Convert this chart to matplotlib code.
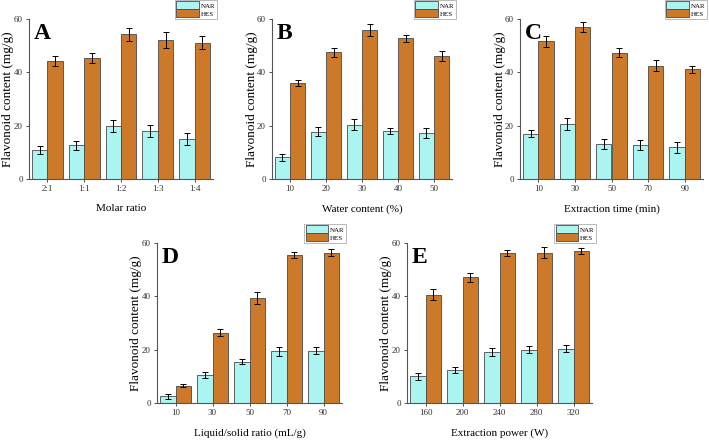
import numpy as np
import matplotlib
matplotlib.use('Agg')
import matplotlib.pyplot as plt

plt.rcParams['font.family'] = ['Liberation Serif', 'DejaVu Serif']

# panel A - molar ratio
a_labels = ['2:1', '1:1', '1:2', '1:3', '1:4']
a_nar = [11.0, 12.7, 19.8, 18.1, 15.1]
a_nar_err = [1.5, 1.7, 2.2, 2.3, 2.2]
a_hes = [44.1, 45.4, 54.2, 52.2, 51.1]
a_hes_err = [1.9, 1.8, 2.3, 2.9, 2.4]

# panel B - water content
b_labels = ['10', '20', '30', '40', '50']
b_nar = [8.2, 17.7, 20.4, 18.0, 17.2]
b_nar_err = [1.3, 1.7, 2.0, 1.1, 1.8]
b_hes = [36.0, 47.6, 56.0, 52.7, 46.1]
b_hes_err = [1.0, 1.7, 2.3, 1.3, 1.8]

# panel C - extraction time
c_labels = ['10', '30', '50', '70', '90']
c_nar = [17.0, 20.5, 13.1, 12.6, 11.9]
c_nar_err = [1.3, 2.3, 2.0, 1.9, 2.1]
c_hes = [51.6, 57.0, 47.4, 42.5, 41.1]
c_hes_err = [2.0, 1.8, 1.6, 2.0, 1.3]

# panel D - liquid/solid ratio
d_labels = ['10', '30', '50', '70', '90']
d_nar = [2.5, 10.5, 15.5, 19.4, 19.6]
d_nar_err = [1.0, 1.3, 1.0, 1.6, 1.3]
d_hes = [6.5, 26.4, 39.5, 55.4, 56.4]
d_hes_err = [0.5, 1.4, 2.3, 1.2, 1.3]

# panel E - extraction power
e_labels = ['160', '200', '240', '280', '320']
e_nar = [10.0, 12.4, 19.1, 20.0, 20.4]
e_nar_err = [1.3, 1.0, 1.4, 1.2, 1.4]
e_hes = [40.6, 47.1, 56.4, 56.4, 56.9]
e_hes_err = [2.0, 1.6, 1.1, 2.0, 1.1]

W, H = 709, 441
fig = plt.figure(figsize=(W / 100, H / 100), dpi=100)

nar_col = '#aaf4f2'
hes_col = '#cc7a2a'
edge = '#4a4a4a'


def rect(l, r, t, b):
    return [l / W, 1 - b / H, (r - l) / W, (b - t) / H]


panels = [
    ('A', rect(29, 213, 19, 179), a_labels, a_nar, a_nar_err, a_hes, a_hes_err, 'Molar ratio'),
    ('B', rect(272, 452, 19, 179), b_labels, b_nar, b_nar_err, b_hes, b_hes_err, 'Water content (%)'),
    ('C', rect(520, 703, 19, 179), c_labels, c_nar, c_nar_err, c_hes, c_hes_err, 'Extraction time (min)'),
    ('D', rect(157, 342, 243, 403), d_labels, d_nar, d_nar_err, d_hes, d_hes_err, 'Liquid/solid ratio (mL/g)'),
    ('E', rect(407, 592, 243, 403), e_labels, e_nar, e_nar_err, e_hes, e_hes_err, 'Extraction power (W)'),
]

w = 0.42
for letter, pos, labels, nar, nar_err, hes, hes_err, xlab in panels:
    ax = fig.add_axes(pos)
    x = np.arange(len(labels))
    ekw = dict(ecolor='black', elinewidth=0.7, capsize=2.5, capthick=0.7)
    ax.bar(x - w / 2, nar, w, yerr=nar_err, color=nar_col, edgecolor=edge,
           linewidth=0.6, error_kw=ekw, label='NAR')
    ax.bar(x + w / 2, hes, w, yerr=hes_err, color=hes_col, edgecolor=edge,
           linewidth=0.6, error_kw=ekw, label='HES')
    ax.set_xlim(-0.5, len(labels) - 0.5)
    ax.set_ylim(0, 60)
    ax.set_yticks([0, 20, 40, 60])
    ax.set_xticks(x)
    ax.set_xticklabels(labels)
    ax.tick_params(labelsize=6.5, length=2.5, width=0.6, colors='#333333', pad=2)
    for s in ['top', 'right']:
        ax.spines[s].set_visible(False)
    for s in ['left', 'bottom']:
        ax.spines[s].set_color('#555555')
        ax.spines[s].set_linewidth(0.8)
    ax_w = pos[2] * W
    ax.set_ylabel('Flavonoid content (mg/g)', fontsize=9.5, va='center')
    ax.yaxis.set_label_coords(-20.5 / ax_w, 0.5)
    ax.set_xlabel(xlab, fontsize=8, labelpad=8)
    ax.text(0.025, 0.975, letter, transform=ax.transAxes, fontsize=17,
            fontweight='bold', va='top', ha='left')
    leg = ax.legend(loc='upper right', bbox_to_anchor=(1.02, 1.12), fontsize=5,
                    frameon=True, fancybox=False, handlelength=3.2,
                    handleheight=1.4, labelspacing=0.0, borderpad=0.2,
                    handletextpad=0.3, borderaxespad=0)
    leg.get_frame().set_edgecolor('#999999')
    leg.get_frame().set_linewidth(0.6)

fig.savefig('out.png', dpi=100)
